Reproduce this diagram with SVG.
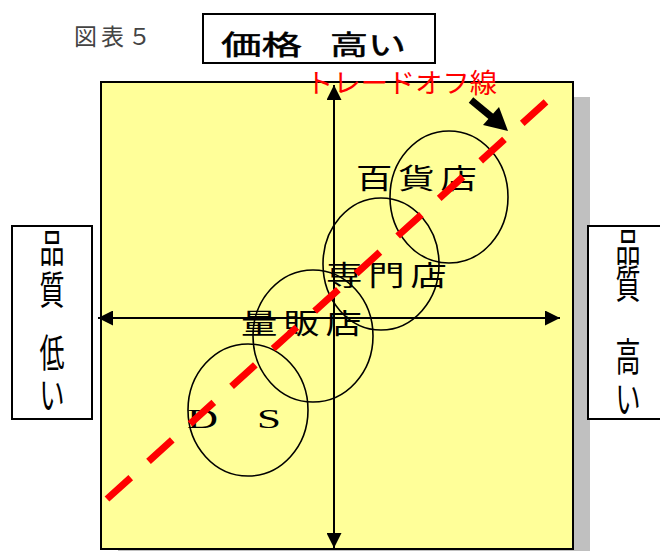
<svg xmlns="http://www.w3.org/2000/svg" width="660" height="551" viewBox="0 0 660 551">
<style>
.box{fill:#ffffff;stroke:#000000;stroke-width:2}
.ell{fill:none;stroke:#000000;stroke-width:1.6}
.jp{font-family:"Noto Sans CJK JP","Noto Sans",sans-serif;fill:#000000}
.lbl{font-size:28px}
.side{font-size:25px;text-anchor:middle}
.axis{stroke:#000000;stroke-width:2;fill:none}
</style>
<defs>
<marker id="ah" markerUnits="userSpaceOnUse" markerWidth="15" markerHeight="15" viewBox="0 0 15 15" refX="15" refY="7.5" orient="auto-start-reverse">
<path d="M0,0 L15,7.5 L0,15 z" fill="#000000"/>
</marker>
</defs>
<rect width="660" height="551" fill="#ffffff"/>
<g id="caption">
<text class="jp" x="74" y="45" font-size="23" style="fill:#444444" textLength="77" lengthAdjust="spacing">図表５</text>
</g>
<g id="chart-area">
<rect x="118" y="97" width="472" height="470" fill="#c0c0c0"/>
<rect x="101" y="82" width="472" height="467" fill="#ffff99" stroke="#000000" stroke-width="2"/>
</g>
<g id="title-price-high">
<rect class="box" x="203" y="14" width="232" height="49"/>
<text class="jp" y="55" font-size="27" style="stroke:#000000;stroke-width:0.5"><tspan x="221" textLength="81" lengthAdjust="spacingAndGlyphs">価格</tspan> <tspan x="330" textLength="76" lengthAdjust="spacingAndGlyphs">高い</tspan></text>
</g>
<g id="quality-low">
<rect class="box" x="12" y="226" width="80" height="193"/>
<text class="jp side" transform="translate(52,0) scale(1,1.55)"><tspan x="0" y="169.2">品</tspan><tspan x="0" y="196.3">質</tspan><tspan x="0" y="236.6">低</tspan><tspan x="0" y="264.1">い</tspan></text>
</g>
<g id="quality-high">
<rect class="box" x="588" y="226" width="80" height="193"/>
<text class="jp side" transform="translate(628,0) scale(1,1.55)"><tspan x="0" y="168.3">品</tspan><tspan x="0" y="192.5">質</tspan><tspan x="0" y="239.2">高</tspan><tspan x="0" y="266.6">い</tspan></text>
</g>
<g id="connectors">
<line class="axis" x1="334" y1="85" x2="334" y2="548" marker-start="url(#ah)" marker-end="url(#ah)"/>
<line class="axis" x1="98" y1="318" x2="560" y2="318" marker-start="url(#ah)" marker-end="url(#ah)"/>
</g>
<g id="department-store">
<ellipse class="ell" cx="449" cy="197" rx="59" ry="66"/>
<text class="jp lbl" transform="translate(356,189) scale(1.3,1)" x="0" y="0" textLength="93" lengthAdjust="spacing">百貨店</text>
</g>
<g id="specialty-store">
<ellipse class="ell" cx="381" cy="264" rx="58" ry="66"/>
<text class="jp lbl" transform="translate(326,286) scale(1.3,1)" x="0" y="0" textLength="93" lengthAdjust="spacing">専門店</text>
</g>
<g id="mass-retailer">
<ellipse class="ell" cx="313" cy="336" rx="60" ry="66"/>
<text class="jp lbl" transform="translate(241,334) scale(1.3,1)" x="0" y="0" textLength="93" lengthAdjust="spacing">量販店</text>
</g>
<g id="ds">
<ellipse class="ell" cx="248" cy="410" rx="60" ry="66"/>
<text font-family="Liberation Serif,serif" font-size="28" y="428" fill="#000000"><tspan x="187" textLength="31" lengthAdjust="spacingAndGlyphs">D</tspan><tspan x="257" textLength="24" lengthAdjust="spacingAndGlyphs">S</tspan></text>
</g>
<g id="tradeoff">
<line x1="107" y1="499" x2="548" y2="100" stroke="#ff0000" stroke-width="7" stroke-dasharray="32 24"/>
<text class="jp" x="306" y="93" font-size="27" style="fill:#ff0000" textLength="191" lengthAdjust="spacingAndGlyphs">トレードオフ線</text>
<line x1="471" y1="100" x2="494" y2="119" stroke="#000000" stroke-width="7"/>
<polygon points="508,131 483,125 499,107" fill="#000000"/>
</g>
</svg>
